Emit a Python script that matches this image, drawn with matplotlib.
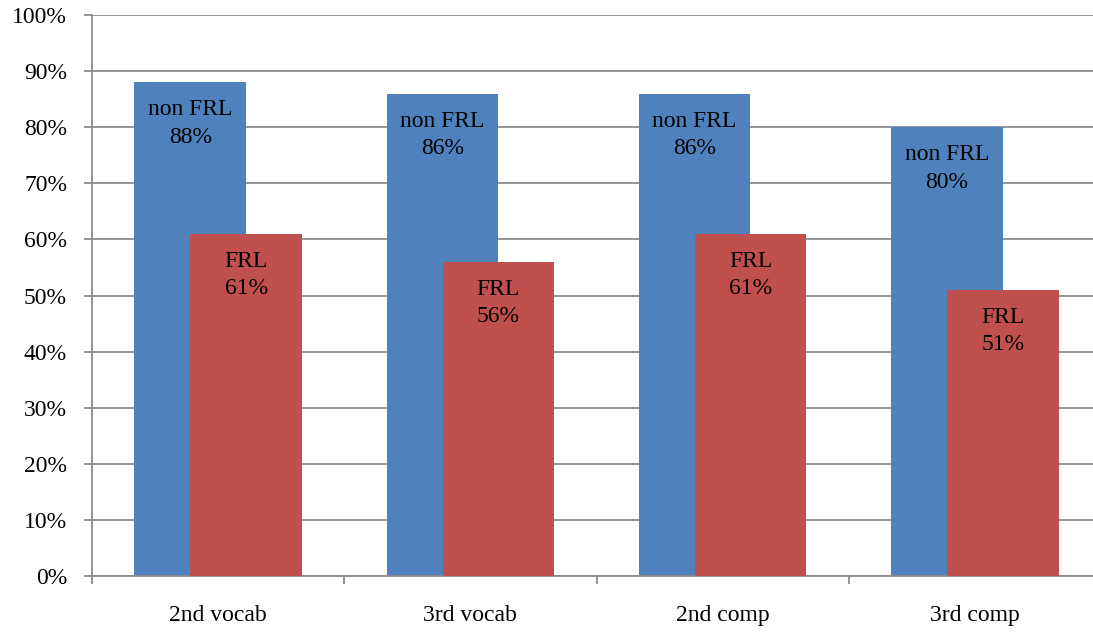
import numpy as np
import matplotlib.pyplot as plt
from matplotlib.ticker import PercentFormatter

# datos
categorias = ['2nd vocab', '3rd vocab', '2nd comp', '3rd comp']
non_frl = [88, 86, 86, 80]
frl = [61, 56, 61, 51]

azul = '#4F81BD'
rojo = '#C0504D'
gris = '#8C8C8C'
tam = 17

plt.rcParams['font.family'] = ['Liberation Serif', 'DejaVu Serif']

fig = plt.figure(figsize=(10.93, 6.32), dpi=100)
# el area del grafico se sale un poco por la derecha, como en la original
ax = fig.add_axes([92/1093, 56/632, 1009/1093, 561/632])

x = np.arange(len(categorias))
ancho = 0.443
desp = 0.111

b1 = ax.bar(x - desp, non_frl, ancho, color=azul, zorder=2)
b2 = ax.bar(x + desp, frl, ancho, color=rojo, zorder=3)

for rect, v in zip(b1, non_frl):
    ax.annotate('non FRL\n%d%%' % v, (rect.get_x() + rect.get_width()/2, v),
                xytext=(0, -17), textcoords='offset pixels',
                ha='center', va='top', fontsize=tam, linespacing=1.4, zorder=4)
for rect, v in zip(b2, frl):
    ax.annotate('FRL\n%d%%' % v, (rect.get_x() + rect.get_width()/2, v),
                xytext=(0, -17), textcoords='offset pixels',
                ha='center', va='top', fontsize=tam, linespacing=1.4, zorder=4)

ax.set_xlim(-0.5, len(categorias) - 0.5)
ax.set_ylim(0, 100)
ax.set_yticks(np.arange(0, 101, 10))
ax.yaxis.set_major_formatter(PercentFormatter(decimals=0))
ax.yaxis.grid(True, color=gris, linewidth=1.3, zorder=0)
ax.set_axisbelow(True)

ax.set_xticks(x)
ax.set_xticklabels(categorias)
ax.set_xticks(np.arange(-0.5, len(categorias), 1), minor=True)
ax.tick_params(axis='x', which='major', length=0, pad=21, labelsize=tam)
ax.tick_params(axis='x', which='minor', length=6, width=1.3, color=gris, direction='out')
ax.tick_params(axis='y', length=6, width=1.3, color=gris, labelsize=tam, pad=12)

for s in ['top', 'right']:
    ax.spines[s].set_visible(False)
for s in ['left', 'bottom']:
    ax.spines[s].set_color(gris)
    ax.spines[s].set_linewidth(1.3)

fig.savefig('out.png', dpi=100)
